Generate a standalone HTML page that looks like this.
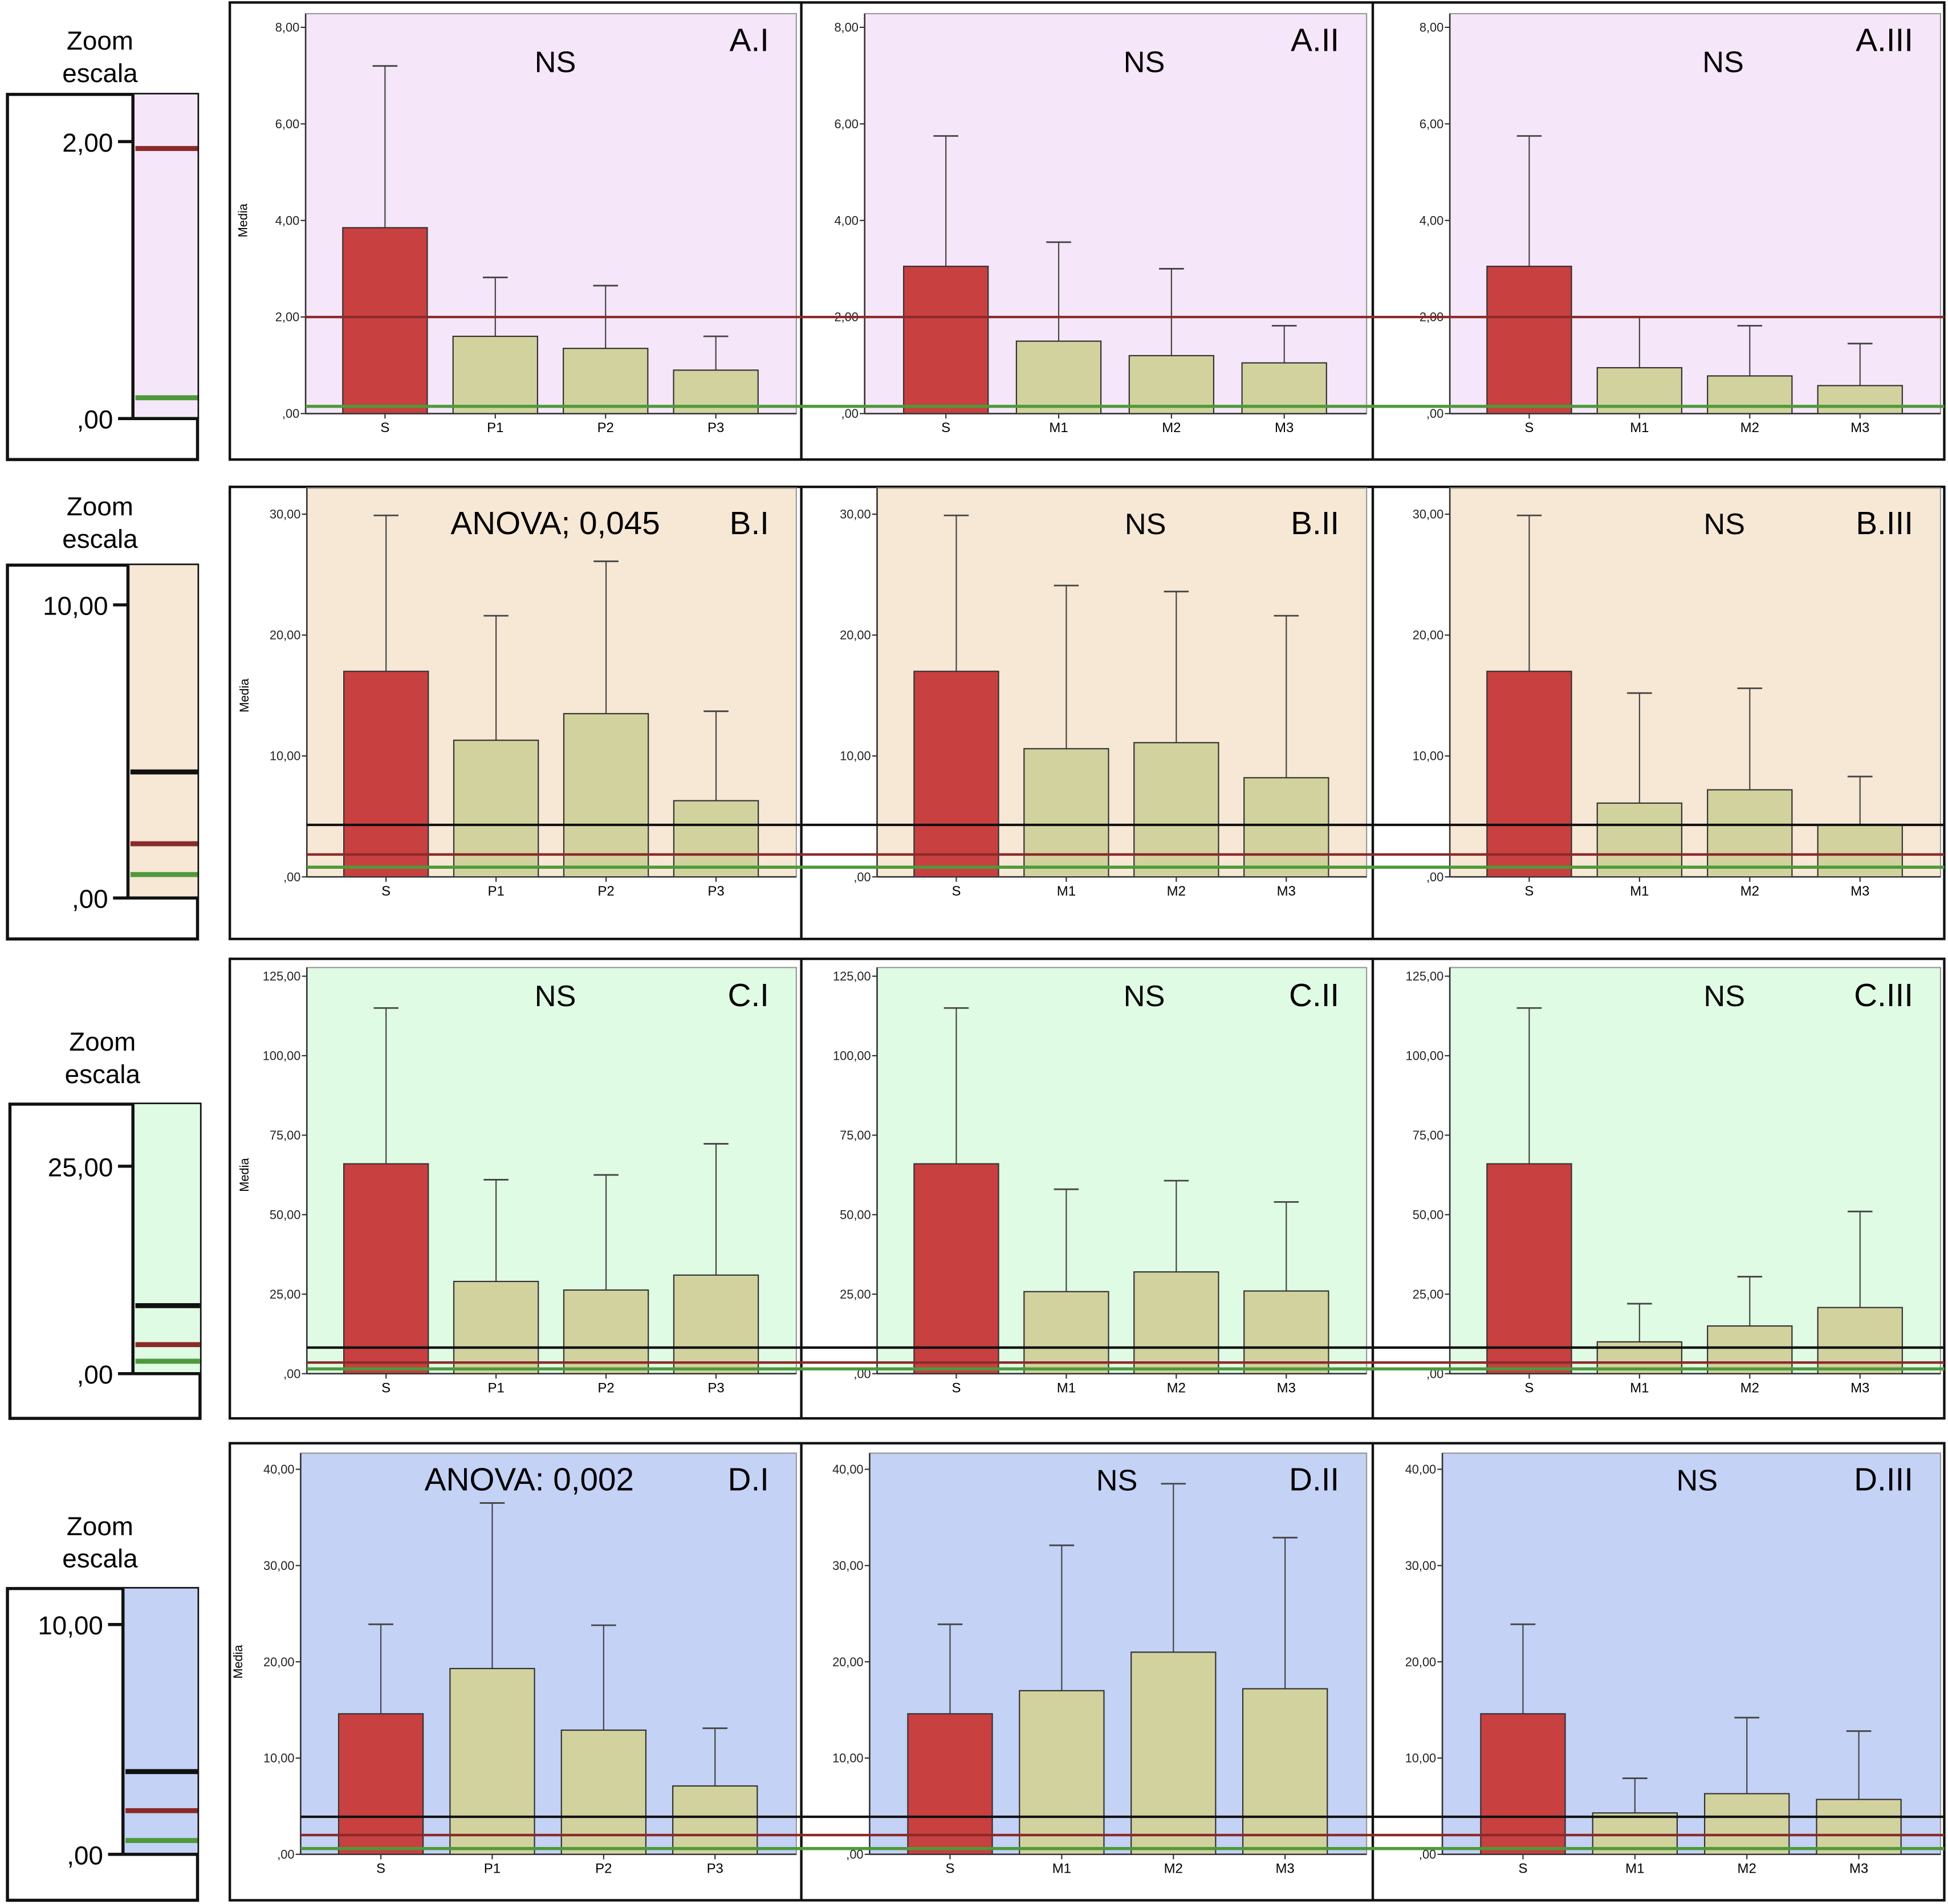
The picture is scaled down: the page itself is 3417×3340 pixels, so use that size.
<!DOCTYPE html>
<html><head><meta charset="utf-8"><style>
html,body{margin:0;padding:0;background:#fff}
svg{display:block}
text{font-family:"Liberation Sans",sans-serif}
</style></head><body>
<svg id="fig" width="3417" height="3340" viewBox="0 0 1568 1533" preserveAspectRatio="none" xmlns="http://www.w3.org/2000/svg"></svg>
<script>
// ---- data ----
const catsP = ["S","P1","P2","P3"];
const catsM = ["S","M1","M2","M3"];
const rowNames = ["A","B","C","D"];
const rowMax = [8, 30, 125, 40];
const rowTicks = [[0,2,4,6,8],[0,10,20,30],[0,25,50,75,100,125],[0,10,20,30,40]];
const tickLabelsA = [",00","2,00","4,00","6,00","8,00"];
const tickLabelsB = [",00","10,00","20,00","30,00"];
const tickLabelsC = [",00","25,00","50,00","75,00","100,00","125,00"];
const tickLabelsD = [",00","10,00","20,00","30,00","40,00"];
const meansA = [[3.85,1.6,1.35,0.9],[3.05,1.5,1.2,1.05],[3.05,0.95,0.78,0.58]];
const errsA  = [[7.2,2.82,2.65,1.6],[5.75,3.55,3.0,1.82],[5.75,2.0,1.82,1.45]];
const meansB = [[17,11.3,13.5,6.3],[17,10.6,11.1,8.2],[17,6.1,7.2,4.3]];
const errsB  = [[29.9,21.6,26.1,13.7],[29.9,24.1,23.6,21.6],[29.9,15.2,15.6,8.3]];
const meansC = [[66,29,26.3,31],[66,25.8,32,26],[66,10,15,20.8]];
const errsC  = [[115,61,62.5,72.3],[115,58,60.7,54],[115,22,30.5,51]];
const meansD = [[14.6,19.3,12.9,7.1],[14.6,17,21,17.2],[14.6,4.3,6.3,5.7]];
const errsD  = [[23.9,36.5,23.8,13.1],[23.9,32.1,38.5,32.9],[23.9,7.9,14.2,12.8]];
const refLines = [[null,2.0,0.15],[4.3,1.85,0.8],[8.2,3.5,1.5],[3.9,2.0,0.6]]; // black, red, green
const zoomRefLines = [[null,1.95,0.15],[4.3,1.85,0.8],[8.2,3.5,1.5],[3.6,1.9,0.6]];
const zoomMax = [2.0, 10, 25, 10];
const annots = [["NS","NS","NS"],["ANOVA; 0,045","NS","NS"],["NS","NS","NS"],["ANOVA: 0,002","NS","NS"]];
const annotX = [[447,921,1387],[447,922,1388],[447,921,1388],[426,899,1366]];
const means=[meansA,meansB,meansC,meansD], errs=[errsA,errsB,errsC,errsD];
const tickLabels=[tickLabelsA,tickLabelsB,tickLabelsC,tickLabelsD];
// ---- layout ----
const NS="http://www.w3.org/2000/svg";
const svg=document.getElementById('fig');
function el(t,a,p){const e=document.createElementNS(NS,t);for(const k in a)e.setAttribute(k,a[k]);(p||svg).appendChild(e);return e;}
const bgs=["#f5e6f9","#f6e8d4","#e0fbe4","#c4d2f6"];
const rows=[{box:[2,370],top:22,zero:333,ptop:11,axX:[246,696,1167],zb:[6,159,76,370,107,337],zt:114,zy0:66},
{box:[392,756],top:414,zero:706,ptop:393,axX:[247,706,1167],zb:[6,159,455,756,103,723],zt:487,zy0:441},
{box:[772,1142],top:786,zero:1106,ptop:779,axX:[247,706,1167],zb:[8,161,889,1142,107,1106],zt:939,zy0:872},
{box:[1162,1530],top:1183,zero:1493,ptop:1170,axX:[242,700,1161],zb:[6,159,1279,1530,99,1493],zt:1308,zy0:1262}];
const rights=[641,1100,1562], romans=["I","II","III"];
rows.forEach((R,r)=>{
  const g=el('g',{});
  
  
  const y=v=>R.zero-(v/rowMax[r])*(R.zero-R.top);
  const ob=el('rect',{x:185,y:R.box[0],width:1380,height:R.box[1]-R.box[0],fill:'#fff',stroke:'#111','stroke-width':2},g);
  
  [645,1105].forEach(x=>el('line',{x1:x,x2:x,y1:R.box[0],y2:R.box[1],stroke:'#111','stroke-width':2},g));
  for(let p=0;p<3;p++){
    const ax=R.axX[p], rt=rights[p];
    const pg=el('g',{},g);
    
    
    el('rect',{x:ax,y:R.ptop,width:rt-ax,height:R.zero-R.ptop,fill:bgs[r],stroke:'#999','stroke-width':1},pg);
    el('line',{x1:ax,x2:ax,y1:R.ptop,y2:R.zero,stroke:'#333','stroke-width':1.2},pg);
    el('line',{x1:ax,x2:rt,y1:R.zero,y2:R.zero,stroke:'#333','stroke-width':1.2},pg);
    rowTicks[r].forEach((t,i)=>{
      el('line',{x1:ax-4,x2:ax,y1:y(t),y2:y(t),stroke:'#333'},pg);
      const tx=el('text',{x:ax-5,y:y(t)+3.5,'font-size':10,'text-anchor':'end',fill:'#222'},pg);
      tx.textContent=tickLabels[r][i];
      
    });
    if(p===0){const yl=el('text',{x:0,y:0,'font-size':10,'text-anchor':'middle',transform:`translate(${ax-47},${(R.top+R.zero)/2}) rotate(-90)`},pg);
      yl.textContent='Media';}
    const cats=p===0?catsP:catsM;
    const step=(rt-ax)/4.45, c0=ax+step*0.72;
    const bw=68;
    cats.forEach((c,i)=>{
      const cx=c0+i*step, m=means[r][p][i], e=errs[r][p][i];
      el('line',{x1:cx,x2:cx,y1:y(e),y2:y(m),stroke:'#444','stroke-width':1},pg);
      el('line',{x1:cx-10,x2:cx+10,y1:y(e),y2:y(e),stroke:'#444','stroke-width':1.3},pg);
      const b=el('rect',{x:cx-bw/2,y:y(m),width:bw,height:R.zero-y(m),fill:i===0?'#c84040':'#d2d29e',stroke:'#333','stroke-width':1},pg);
      
      el('line',{x1:cx,x2:cx,y1:R.zero,y2:R.zero+4,stroke:'#333'},pg);
      const xl=el('text',{x:cx,y:R.zero+15,'font-size':11,'text-anchor':'middle'},pg);
      xl.textContent=c;
    });
    const an=el('text',{x:annotX[r][p],y:R.box[0]+(r===0?56:38),'font-size':p===0&&(r===1||r===3)?26:24,'text-anchor':'middle'},pg);
    an.textContent=annots[r][p];
    const lb=el('text',{x:rt-22,y:R.box[0]+(r===0?39:38),'font-size':26,'text-anchor':'end'},pg);
    lb.textContent=rowNames[r]+'.'+romans[p];
  }
  const cols=['#111','#8b2a2a','#4e9a3a'], ws=[2,2,2.5];
  refLines[r].forEach((v,k)=>{ if(v===null)return;
    const ln=el('line',{x1:R.axX[0],x2:1565,y1:y(v),y2:y(v),stroke:cols[k],'stroke-width':ws[k]},g);
    });
  const z=R.zb; const zg=el('g',{},g);
  
  const cxz=(z[0]+z[1])/2-2;
  const ttl=el('text',{x:cxz,y:R.zy0-26,'font-size':21,'text-anchor':'middle'},zg);
  ttl.innerHTML='<tspan x="'+cxz+'" dy="0">Zoom</tspan><tspan x="'+cxz+'" dy="26">escala</tspan>';
  
  el('rect',{x:z[0],y:z[2],width:z[1]-z[0],height:z[3]-z[2],fill:'#fff',stroke:'#111','stroke-width':2.5},zg);
  el('rect',{x:z[4],y:z[2],width:z[1]-z[4],height:z[5]-z[2],fill:bgs[r]},zg);
  el('line',{x1:z[4],x2:z[4],y1:z[2],y2:z[5],stroke:'#111','stroke-width':2.5},zg);
  el('line',{x1:z[4],x2:z[1],y1:z[5],y2:z[5],stroke:'#111','stroke-width':2.5},zg);
  const zy=v=>z[5]-(v/zoomMax[r])*(z[5]-R.zt);
  [[0,',00'],[zoomMax[r],r===0?'2,00':r===2?'25,00':'10,00']].forEach(([v,s])=>{
    el('line',{x1:z[4]-12,x2:z[4],y1:zy(v),y2:zy(v),stroke:'#111','stroke-width':2.5},zg);
    const t=el('text',{x:z[4]-16,y:zy(v)+8,'font-size':21,'text-anchor':'end'},zg);t.textContent=s;
    });
  zoomRefLines[r].forEach((v,k)=>{ if(v===null)return;
    el('line',{x1:z[4]+2,x2:z[1],y1:zy(v),y2:zy(v),stroke:cols[k],'stroke-width':4},zg);});
});
</script>
</body></html>
